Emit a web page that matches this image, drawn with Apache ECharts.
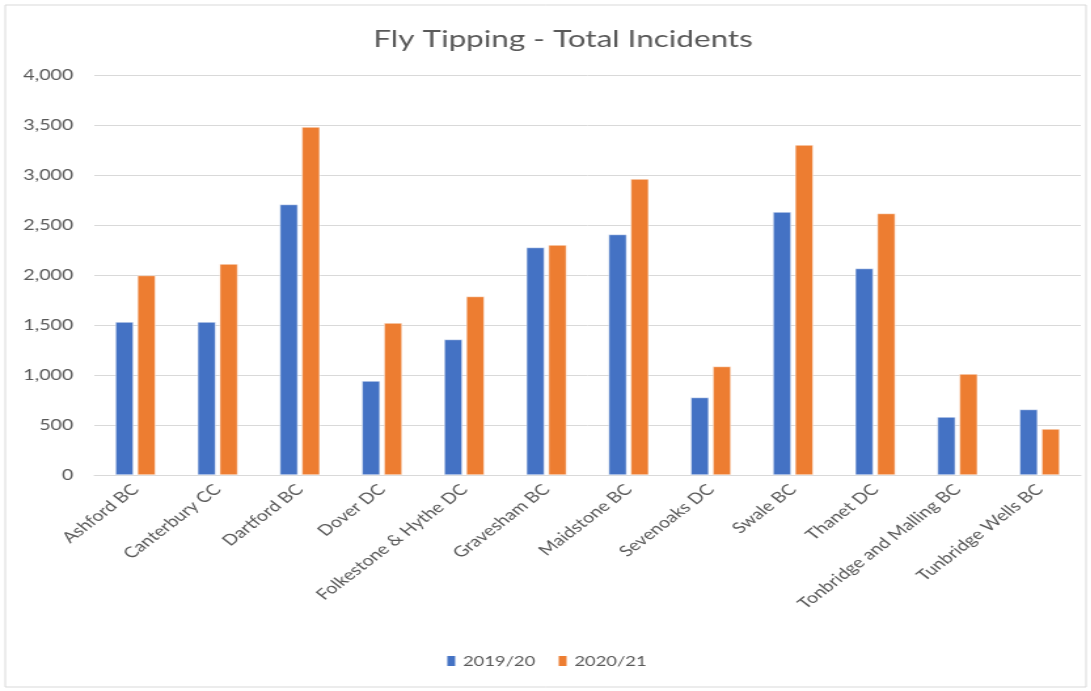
<!DOCTYPE html>
<html>
<head>
<meta charset="utf-8">
<script src="https://cdn.jsdelivr.net/npm/echarts@6/dist/echarts.min.js"></script>
<style>
  html, body { margin: 0; padding: 0; background: #fff; overflow: hidden; }
  /* the source picture is an Excel chart stretched sideways, so draw narrow and stretch */
  #chart { width: 833px; height: 691px; transform: scaleX(1.31); transform-origin: 0 0; }
</style>
</head>
<body>
<div id="chart"></div>
<script>
var councils = ['Ashford BC', 'Canterbury CC', 'Dartford BC', 'Dover DC', 'Folkestone & Hythe DC', 'Gravesham BC',
  'Maidstone BC', 'Sevenoaks DC', 'Swale BC', 'Thanet DC', 'Tonbridge and Malling BC', 'Tunbridge Wells BC'];
var incidents1920 = [1530, 1530, 2705, 940, 1355, 2275, 2405, 775, 2630, 2065, 580, 655];
var incidents2021 = [1995, 2110, 3480, 1520, 1785, 2300, 2960, 1085, 3300, 2615, 1010, 460];
var yTicks = [0, 500, 1000, 1500, 2000, 2500, 3000, 3500, 4000];

var chart = echarts.init(document.getElementById('chart'));
var textGrey = '#595959';
var font = 'Lato';

var option = {
  backgroundColor: '#fff',
  animation: false,
  title: {
    text: 'Fly Tipping - Total Incidents',
    left: 280,
    top: 22,
    textStyle: { color: textGrey, fontFamily: font, fontWeight: 'normal', fontSize: 24 }
  },
  graphic: [{
    type: 'rect',
    shape: { x: 4, y: 5, width: 825, height: 682 },
    style: { fill: 'none', stroke: '#d9d9d9', lineWidth: 1 },
    silent: true
  }],
  legend: {
    bottom: 18,
    left: 'center',
    icon: 'rect',
    itemWidth: 8,
    itemHeight: 12,
    itemGap: 16,
    textStyle: { color: textGrey, fontFamily: font, fontSize: 14 },
    data: ['2019/20', '2020/21']
  },
  grid: { left: 72, right: 8, top: 75, bottom: 216, containLabel: false },
  xAxis: {
    type: 'category',
    data: councils,
    axisLine: { lineStyle: { color: '#d9d9d9', width: 1 } },
    axisTick: { show: false },
    axisLabel: {
      rotate: 45,
      interval: 0,
      color: textGrey,
      fontFamily: font,
      fontSize: 15,
      margin: 12
    }
  },
  yAxis: {
    type: 'value',
    min: yTicks[0],
    max: yTicks[yTicks.length - 1],
    interval: 500,
    axisLine: { show: false },
    axisTick: { show: false },
    splitLine: { lineStyle: { color: '#d9d9d9', width: 1 } },
    axisLabel: {
      color: textGrey,
      fontFamily: font,
      fontSize: 15,
      margin: 16,
      formatter: function (v) { return v.toLocaleString('en-GB'); }
    }
  },
  series: [{
    name: '2019/20',
    type: 'bar',
    data: incidents1920,
    barWidth: '22%',
    barGap: '22%',
    itemStyle: { color: '#4472C4', borderColor: '#fff', borderWidth: 0.5 }
  }, {
    name: '2020/21',
    type: 'bar',
    data: incidents2021,
    barWidth: '22%',
    itemStyle: { color: '#ED7D31', borderColor: '#fff', borderWidth: 0.5 }
  }]
};

chart.setOption(option);
</script>
</body>
</html>
